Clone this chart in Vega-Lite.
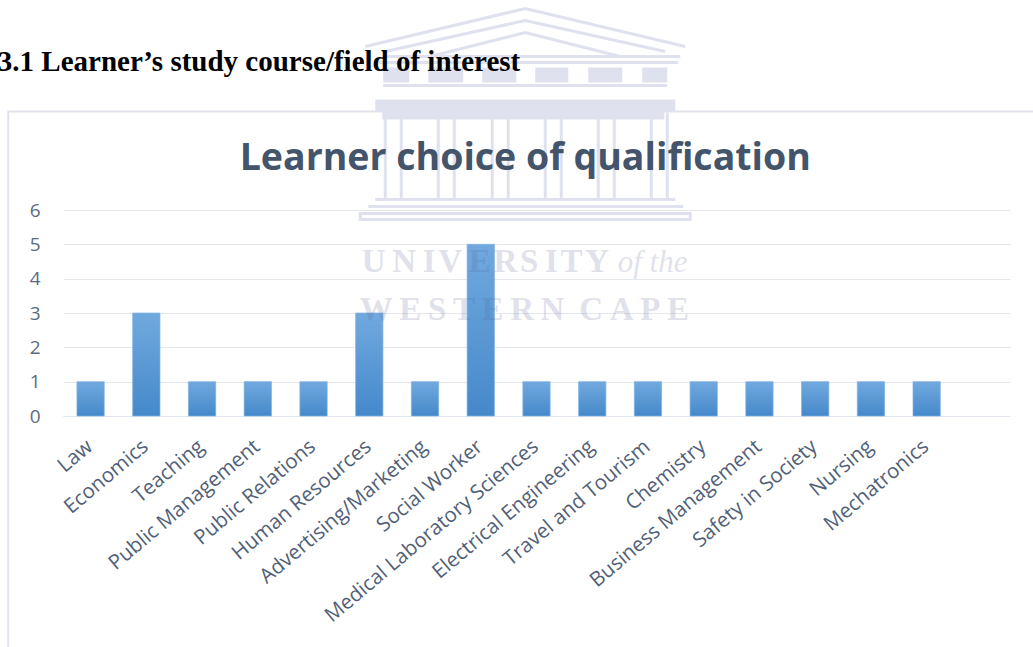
{"$schema":"https://vega.github.io/schema/vega-lite/v6.json","width":947,"height":206,"autosize":"none","padding":{"left":63,"top":210,"right":23,"bottom":231},"background":"white","layer":[{"data":{"values":[{"c":"Law","v":1,"o":1},{"c":"Economics","v":3,"o":2},{"c":"Teaching","v":1,"o":3},{"c":"Public Management","v":1,"o":4},{"c":"Public Relations","v":1,"o":5},{"c":"Human Resources","v":3,"o":6},{"c":"Advertising/Marketing","v":1,"o":7},{"c":"Social Worker","v":5,"o":8},{"c":"Medical Laboratory Sciences","v":1,"o":9},{"c":"Electrical Engineering","v":1,"o":10},{"c":"Travel and Tourism","v":1,"o":11},{"c":"Chemistry","v":1,"o":12},{"c":"Business Management","v":1,"o":13},{"c":"Safety in Society","v":1,"o":14},{"c":"Nursing","v":1,"o":15},{"c":"Mechatronics","v":1,"o":16}]},"mark":{"type":"bar","stroke":"#7fb1e3","strokeWidth":0.7,"color":{"gradient":"linear","x1":0,"x2":0,"y1":0,"y2":1,"stops":[{"offset":0,"color":"#71a9de"},{"offset":1,"color":"#4589cb"}]}},"encoding":{"x":{"field":"c","type":"nominal","sort":null,"scale":{"domain":["Law","Economics","Teaching","Public Management","Public Relations","Human Resources","Advertising/Marketing","Social Worker","Medical Laboratory Sciences","Electrical Engineering","Travel and Tourism","Chemistry","Business Management","Safety in Society","Nursing","Mechatronics"," "],"paddingInner":0.51,"paddingOuter":0.25},"axis":{"title":null,"labelAngle":-40,"labelFont":"Open Sans","labelFontSize":20.5,"labelColor":"#525f78","labelLimit":400,"labelOverlap":false,"labelOffset":-7,"ticks":false,"domainColor":"#e2e6ee","labelPadding":20}},"y":{"field":"v","type":"quantitative","scale":{"domain":[0,6]},"axis":{"title":null,"values":[0,1,2,3,4,5,6],"labelOverlap":false,"labelFont":"Open Sans","labelFontSize":19,"labelColor":"#5b6b85","ticks":false,"domain":false,"gridColor":"#e4e8ee","labelPadding":23}}}},{"data":{"values":[{"k":"frame"}]},"mark":{"type":"point","opacity":1,"filled":false,"size":4,"stroke":"#e0e3ec","strokeWidth":2,"shape":"M-472.5,437V-98.5H553"},"encoding":{"x":{"datum":"Social Worker","type":"nominal","title":null},"y":{"datum":6,"type":"quantitative","axis":{"title":null,"values":[0,1,2,3,4,5,6]}}}},{"data":{"values":[{"k":"temple lines"}]},"mark":{"type":"point","opacity":1,"filled":false,"size":4,"stroke":"#dfe1ee","strokeWidth":3,"shape":"M-115.5,-163.5L44.5,-201.5L204.5,-163.5M-95.5,-158.5L44.5,-189.5L184.5,-158.5M-50.5,-153.5L44.5,-177.5L139.5,-153.5M-95.5,-153.5H199.5M-102.5,-147.5H197.5M-97.5,-124.5H186.5M-95.5,-97.5V-10.5M-79.5,-97.5V-10.5M-42.5,-97.5V-10.5M-26.5,-97.5V-10.5M11.5,-97.5V-10.5M27.5,-97.5V-10.5M64.5,-97.5V-10.5M80.5,-97.5V-10.5M117.5,-97.5V-10.5M133.5,-97.5V-10.5M170.5,-97.5V-10.5M186.5,-97.5V-10.5M-105.5,-10.5H194.5M-112.5,-3.5H202.5M-120.5,3.5H209.5V9.5H-120.5Z"},"encoding":{"x":{"datum":"Social Worker","type":"nominal","title":null},"y":{"datum":6,"type":"quantitative","axis":{"title":null,"values":[0,1,2,3,4,5,6]}}}},{"data":{"values":[{"k":"temple blocks"}]},"mark":{"type":"point","opacity":1,"filled":true,"size":4,"fill":"#dfe1ee","strokeWidth":0,"shape":"M-97.5,-142.5H-71.5V-127.5H-97.5ZM-52.5,-142.5H-17.5V-127.5H-52.5ZM1.5,-142.5H35.5V-127.5H1.5ZM54.5,-142.5H87.5V-127.5H54.5ZM107.5,-142.5H141.5V-127.5H107.5ZM161.5,-142.5H186.5V-127.5H161.5ZM-105.5,-110.5H194.5V-98.5H-105.5ZM-98.5,-98.5H183.5V-90.5H-98.5Z"},"encoding":{"x":{"datum":"Social Worker","type":"nominal","title":null},"y":{"datum":6,"type":"quantitative","axis":{"title":null,"values":[0,1,2,3,4,5,6]}}}},{"data":{"values":[{"t":"Learner choice of qualification"}]},"mark":{"type":"text","font":"Open Sans","fontSize":37.5,"fontWeight":"bold","color":"#44546a","align":"center","baseline":"alphabetic","dx":44.5},"encoding":{"text":{"field":"t","type":"nominal"},"x":{"datum":"Social Worker","type":"nominal","title":null},"y":{"datum":7.17,"type":"quantitative","axis":{"title":null,"values":[0,1,2,3,4,5,6]}}}},{"data":{"values":[{"t":"3.1 Learner’s study course/field of interest"}]},"mark":{"type":"text","font":"Liberation Serif","fontWeight":"bold","fontSize":29,"color":"#000000","align":"right","baseline":"alphabetic","dx":39.5},"encoding":{"text":{"field":"t","type":"nominal"},"x":{"datum":"Social Worker","type":"nominal","title":null},"y":{"datum":10.05,"type":"quantitative","axis":{"title":null,"values":[0,1,2,3,4,5,6]}}}},{"data":{"values":[{"t":"U\u2009N\u2009I\u200aV\u2009E\u200aR\u200aS\u2009I\u200aT\u200aY"}]},"mark":{"type":"text","font":"Liberation Serif","fontWeight":"bold","fontSize":33,"color":"#5a6095","opacity":0.18,"align":"left","baseline":"alphabetic","dx":-119},"encoding":{"text":{"field":"t","type":"nominal"},"x":{"datum":"Social Worker","type":"nominal","title":null},"y":{"datum":4.19,"type":"quantitative","axis":{"title":null,"values":[0,1,2,3,4,5,6]}}}},{"data":{"values":[{"t":"of the"}]},"mark":{"type":"text","font":"Liberation Serif","fontStyle":"italic","fontSize":31,"color":"#5a6095","opacity":0.18,"align":"left","baseline":"alphabetic","dx":137},"encoding":{"text":{"field":"t","type":"nominal"},"x":{"datum":"Social Worker","type":"nominal","title":null},"y":{"datum":4.19,"type":"quantitative","axis":{"title":null,"values":[0,1,2,3,4,5,6]}}}},{"data":{"values":[{"t":"W\u2009E\u2009S\u2009T\u2009E\u2009R\u2009N\u2009 C\u2009A\u2009P\u2009E"}]},"mark":{"type":"text","font":"Liberation Serif","fontWeight":"bold","fontSize":33,"color":"#5a6095","opacity":0.18,"align":"left","baseline":"alphabetic","dx":-121},"encoding":{"text":{"field":"t","type":"nominal"},"x":{"datum":"Social Worker","type":"nominal","title":null},"y":{"datum":2.8,"type":"quantitative","axis":{"title":null,"values":[0,1,2,3,4,5,6]}}}}],"config":{"view":{"stroke":null}}}
